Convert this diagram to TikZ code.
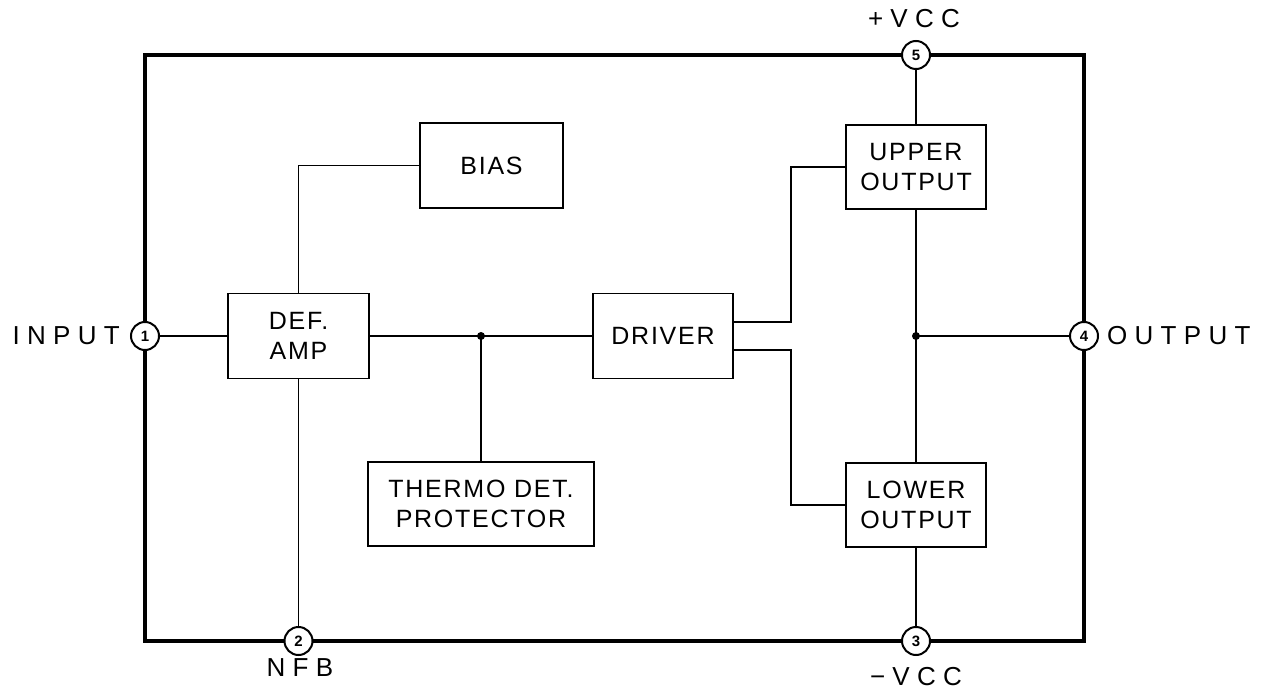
\documentclass[tikz,border=0pt]{standalone}
\usepackage{fontspec}
\setmainfont{Liberation Sans}
\newfontfamily\pinfont[LetterSpace=28]{Liberation Sans}
\newfontfamily\boxfont[LetterSpace=7]{Liberation Sans}
\begin{document}
\begin{tikzpicture}[x=1pt,y=-1pt,
  blk/.style={draw, line width=1.8pt, minimum width=141pt, minimum height=85pt, inner sep=0pt,
    font=\boxfont\fontsize{25}{30}\selectfont, align=center},
  pin/.style={circle, draw, fill=white, line width=2pt, minimum size=28pt, inner sep=0pt,
    font=\bfseries\fontsize{15}{15}\selectfont},
  wire/.style={line width=1.8pt},
  frame/.style={line width=3.2pt},
  plabel/.style={font=\pinfont\fontsize{26}{30}\selectfont, inner sep=0pt},
  dot/.style={circle, fill=black, inner sep=0pt, minimum size=8pt}]
\useasboundingbox (0,0) rectangle (1266,695);
% frame
\draw[frame] (145,55) rectangle (1084,641);
% pins
\node[pin] (p1) at (145,336) {1};
\node[pin] (p2) at (298.5,641) {2};
\node[pin] (p3) at (916,641) {3};
\node[pin] (p4) at (1084,336) {4};
\node[pin] (p5) at (916,55) {5};
% pin labels
\node[plabel, anchor=east] (lin) at ([xshift=-10pt]p1.west) {INPUT};
\node[plabel, anchor=west] (lout) at ([xshift=8pt]p4.east) {OUTPUT};
\node[plabel] (lvp) at (914,19) {+VCC};
\node[plabel] (lnfb) at (300,668) {NFB};
\node[plabel] (lvm) at (916,677) {−VCC};
% blocks
\node[blk] (amp) at (298.5,336) {DEF.\\AMP};
\node[blk, minimum width=143pt] (bias) at (491.5,165.5) {BIAS};
\node[blk, minimum width=226pt, minimum height=84pt] (thermo) at (481,504) {THERMO DET.\\PROTECTOR};
\node[blk, minimum width=140pt] (drv) at (663,336) {DRIVER};
\node[blk, minimum width=140pt, minimum height=84pt] (upper) at (916,167) {UPPER\\OUTPUT};
\node[blk, minimum width=140pt, minimum height=84pt] (lower) at (916,505) {LOWER\\OUTPUT};
% helper coordinates
\coordinate (bu) at (791,336);
\coordinate (j1) at (thermo.north |- amp.east);
\coordinate (j2) at (upper.south |- p4.west);
% connectors
\draw[wire] (p1.east) -- (amp.west);
\draw[wire] (amp.north) |- (bias.west);
\draw[wire] (amp.south) -- (p2.north);
\draw[wire] (amp.east) -- (drv.west);
\draw[wire] (j1) -- (thermo.north);
\node[dot] at (j1) {};
\draw[wire] ([yshift=14pt]drv.east) -| (bu |- upper.west) -- (upper.west);
\draw[wire] ([yshift=-14pt]drv.east) -| (bu |- lower.west) -- (lower.west);
\draw[wire] (p5.south) -- (upper.north);
\draw[wire] (upper.south) -- (lower.north);
\draw[wire] (j2) -- (p4.west);
\node[dot] at (j2) {};
\draw[wire] (lower.south) -- (p3.north);
\end{tikzpicture}
\end{document}
